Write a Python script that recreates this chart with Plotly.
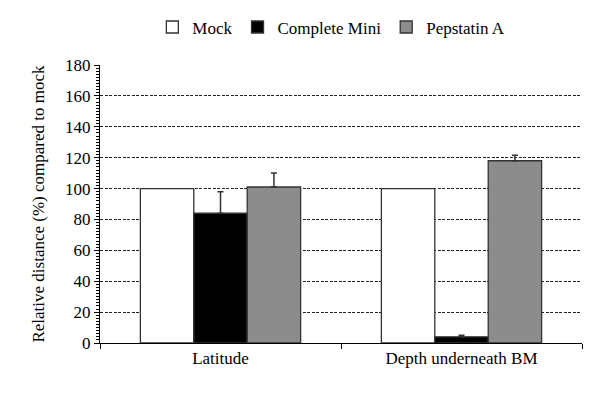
import plotly.graph_objects as go

categories = ["Latitude", "Depth underneath BM"]
series_names = ["Mock", "Complete Mini", "Pepstatin A"]
mock = [100, 100]
complete_mini = [84, 4]
pepstatin = [101, 118]
mock_err = [0, 0]
complete_err = [14, 1]
pepstatin_err = [9, 3.5]
y_ticks = [0, 20, 40, 60, 80, 100, 120, 140, 160, 180]

fills = ["#ffffff", "#000000", "#8c8c8c"]
values = [mock, complete_mini, pepstatin]
errs = [mock_err, complete_err, pepstatin_err]

fig = go.Figure()
for name, vals, err, col in zip(series_names, values, errs, fills):
    fig.add_trace(go.Bar(
        x=categories, y=vals, name=name,
        marker=dict(color=col, line=dict(color="#333333", width=1.3)),
        error_y=dict(type="data", symmetric=False, array=err,
                     arrayminus=[0] * len(err), color="#333333",
                     thickness=1.5, width=3,
                     visible=any(e > 0 for e in err)),
    ))

font_family = "Times New Roman, Liberation Serif, DejaVu Serif, serif"
fig.update_layout(
    width=600, height=401,
    margin=dict(l=100, r=18, t=65, b=58, autoexpand=False),
    paper_bgcolor="white", plot_bgcolor="white",
    barmode="group", bargap=0.335, bargroupgap=0,
    font=dict(family=font_family, size=17, color="black"),
    showlegend=True,
    legend=dict(orientation="h", x=0.48, xanchor="center", y=1.135,
                yanchor="middle", font=dict(size=17, family=font_family),
                itemwidth=30, tracegroupgap=0),
    xaxis=dict(showline=True, linecolor="black", linewidth=1,
               ticks="outside", tickson="boundaries", ticklen=5,
               tickcolor="black", showgrid=False, automargin=False,
               tickfont=dict(size=17, family=font_family)),
    yaxis=dict(range=[0, 180], tickvals=y_ticks, showline=True,
               linecolor="black", linewidth=1, ticks="outside",
               ticklen=5, tickcolor="black", automargin=False,
               showgrid=True, gridcolor="#222222", griddash="3px,1.5px",
               gridwidth=0.8, zeroline=False,
               minor=dict(dtick=2, ticks="outside", ticklen=3,
                          tickcolor="black", showgrid=False),
               title=dict(text="Relative distance (%) compared to mock",
                          font=dict(size=17, family=font_family), standoff=16),
               tickfont=dict(size=17, family=font_family)),
)

fig.write_html(
    "out.html",
    config={"displayModeBar": False},
    post_script="document.body.style.margin='0';document.body.style.overflow='hidden';",
)
